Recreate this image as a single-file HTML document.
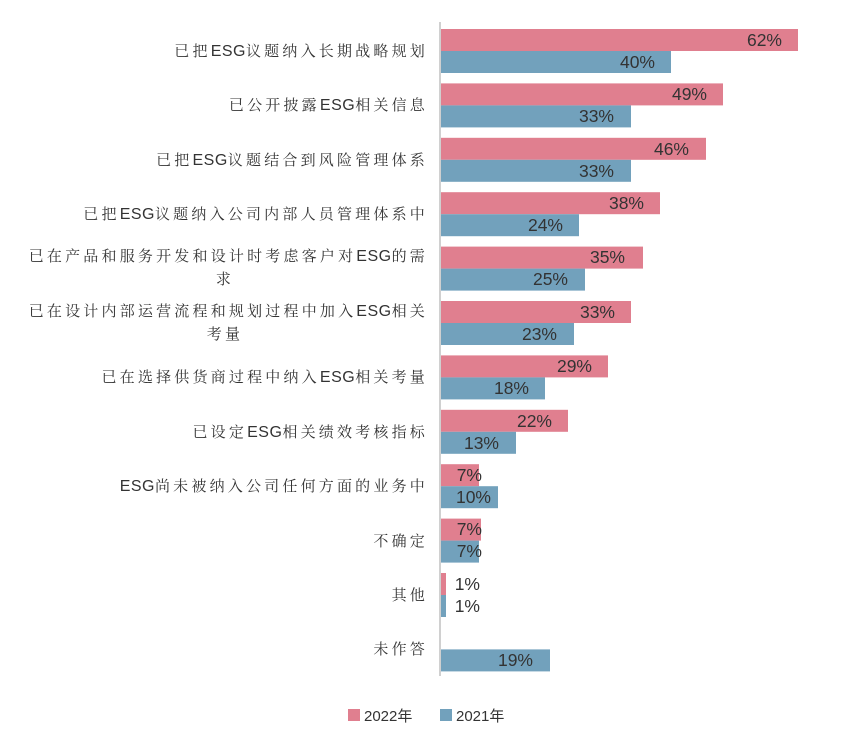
<!DOCTYPE html>
<html><head><meta charset="utf-8"><style>
body{margin:0;background:#fff;}
svg{display:block}
.c{font-family:"Liberation Sans","Noto Serif CJK SC",serif;font-size:15px;fill:#333;letter-spacing:3.2px}
.c tspan{letter-spacing:0.5px;font-size:16px}
.v{font-family:"Liberation Sans",sans-serif;font-size:17.5px;fill:#333}
.l{font-family:"Liberation Sans","Noto Sans CJK SC",sans-serif;font-size:15px;fill:#333}
.p{fill:#e07f8f}.b{fill:#72a1bc}
</style></head><body>
<svg width="866" height="750" xmlns="http://www.w3.org/2000/svg">
<g>
<rect class="p" x="441" y="29" width="357" height="22"/><rect class="b" x="441" y="51" width="230" height="22"/>
<rect class="p" x="441" y="83.4" width="282" height="22"/><rect class="b" x="441" y="105.4" width="190" height="22"/>
<rect class="p" x="441" y="137.8" width="265" height="22"/><rect class="b" x="441" y="159.8" width="190" height="22"/>
<rect class="p" x="441" y="192.2" width="219" height="22"/><rect class="b" x="441" y="214.2" width="138" height="22"/>
<rect class="p" x="441" y="246.6" width="202" height="22"/><rect class="b" x="441" y="268.6" width="144" height="22"/>
<rect class="p" x="441" y="301" width="190" height="22"/><rect class="b" x="441" y="323" width="133" height="22"/>
<rect class="p" x="441" y="355.4" width="167" height="22"/><rect class="b" x="441" y="377.4" width="104" height="22"/>
<rect class="p" x="441" y="409.8" width="127" height="22"/><rect class="b" x="441" y="431.8" width="75" height="22"/>
<rect class="p" x="441" y="464.2" width="38" height="22"/><rect class="b" x="441" y="486.2" width="57" height="22"/>
<rect class="p" x="441" y="518.6" width="40" height="22"/><rect class="b" x="441" y="540.6" width="38" height="22"/>
<rect class="p" x="441" y="573" width="5" height="22"/><rect class="b" x="441" y="595" width="5" height="22"/>
<rect class="b" x="441" y="649.4" width="109" height="22"/>
</g>
<g class="v" text-anchor="end">
<text x="782" y="46">62%</text><text x="655" y="68">40%</text>
<text x="707" y="100">49%</text><text x="614" y="122">33%</text>
<text x="689" y="155">46%</text><text x="614" y="177">33%</text>
<text x="644" y="209">38%</text><text x="563" y="231">24%</text>
<text x="625" y="263">35%</text><text x="568" y="285">25%</text>
<text x="615" y="318">33%</text><text x="557" y="340">23%</text>
<text x="592" y="372">29%</text><text x="529" y="394">18%</text>
<text x="552" y="427">22%</text><text x="499" y="449">13%</text>
<text x="482" y="481">7%</text><text x="491" y="503">10%</text>
<text x="482" y="535">7%</text><text x="482" y="557">7%</text>
<text x="480" y="590">1%</text><text x="480" y="612">1%</text>
<text x="533" y="666">19%</text>
</g>
<line x1="440" y1="22" x2="440" y2="676" stroke="#d0d0d0" stroke-width="2"/>
<g class="c" text-anchor="end">
<text x="428" y="56">已把<tspan>ESG</tspan>议题纳入长期战略规划</text>
<text x="428" y="110">已公开披露<tspan>ESG</tspan>相关信息</text>
<text x="428" y="165">已把<tspan>ESG</tspan>议题结合到风险管理体系</text>
<text x="428" y="219">已把<tspan>ESG</tspan>议题纳入公司内部人员管理体系中</text>
<text x="428" y="261">已在产品和服务开发和设计时考虑客户对<tspan>ESG</tspan>的需</text>
<text x="225" y="284" text-anchor="middle">求</text>
<text x="428" y="316">已在设计内部运营流程和规划过程中加入<tspan>ESG</tspan>相关</text>
<text x="225" y="339" text-anchor="middle">考量</text>
<text x="428" y="382">已在选择供货商过程中纳入<tspan>ESG</tspan>相关考量</text>
<text x="428" y="437">已设定<tspan>ESG</tspan>相关绩效考核指标</text>
<text x="428" y="491"><tspan>ESG</tspan>尚未被纳入公司任何方面的业务中</text>
<text x="428" y="546">不确定</text>
<text x="428" y="600">其他</text>
<text x="428" y="654">未作答</text>
</g>
<rect x="348" y="709" width="12" height="12" fill="#e07f8f"/>
<text class="l" x="364" y="721">2022年</text>
<rect x="440" y="709" width="12" height="12" fill="#72a1bc"/>
<text class="l" x="456" y="721">2021年</text>
</svg>
</body></html>
